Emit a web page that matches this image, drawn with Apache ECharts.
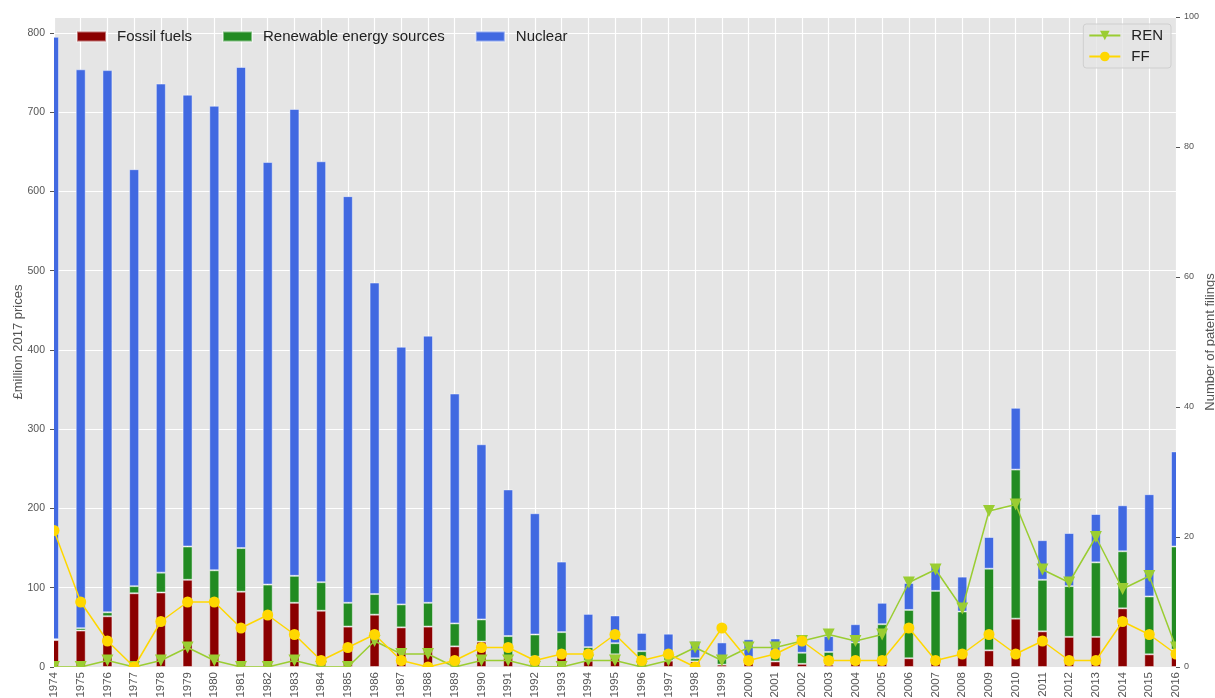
<!DOCTYPE html>
<html><head><meta charset="utf-8">
<script src="https://cdn.jsdelivr.net/npm/echarts@6/dist/echarts.min.js"></script>
<style>html,body{margin:0;padding:0;background:#fff}#c{width:1215px;height:698px}</style>
</head><body><div id="c"></div>
<script>
const years = ['1974','1975','1976','1977','1978','1979','1980','1981','1982','1983','1984','1985','1986','1987','1988','1989','1990','1991','1992','1993','1994','1995','1996','1997','1998','1999','2000','2001','2002','2003','2004','2005','2006','2007','2008','2009','2010','2011','2012','2013','2014','2015','2016'];
const fossil    = [34,46,64,93,94,110,85,95,62,81,71,51,66,50,51,26,32,12,13,18,8,16,8,8,7,3,5,7,4,3,5,7,11,10,16,21,61,45,38,38,74,16,22];
const renewable = [1,3,5,9,25,42,37,55,42,34,36,30,26,29,30,29,28,27,28,26,17,14,12,5,4,9,7,11,14,16,26,47,61,86,54,103,188,65,64,94,72,73,130];
const nuclear   = [760,705,684,526,617,570,586,607,533,589,531,513,393,325,337,290,221,185,153,89,42,35,23,29,22,19,23,18,22,20,23,27,34,32,44,40,78,50,67,61,58,129,120];
const renPatents = [0,0,1,0,1,3,1,0,0,1,0,0,4,2,2,0,1,1,0,0,1,1,0,1,3,1,3,3,4,5,4,5,13,15,9,24,25,15,13,20,12,14,3];
const ffPatents  = [21,10,4,0,7,10,10,6,8,5,1,3,5,1,0,1,3,3,1,2,2,5,1,2,0,6,1,2,4,1,1,1,6,1,2,5,2,4,1,1,7,5,2];
const leftTicks = [0,100,200,300,400,500,600,700,800];
const rightTicks = [0,20,40,60,80,100];

const FONT = "'Liberation Sans', Arial, sans-serif";
const W = 1215, H = 698;
const G = {left:54, right:39, top:17, bottom:31};
const chart = echarts.init(document.getElementById('c'), null, {renderer:'canvas'});
const barBorder = {borderColor:'rgba(255,255,255,0.45)', borderWidth:1};
const mask = (x, y, w, h) => ({type:'rect', z:8, silent:true, shape:{x, y, width:w, height:h}, style:{fill:'#fff'}});
chart.setOption({
  animation:false,
  textStyle:{fontFamily:FONT},
  grid:{left:G.left, right:G.right, top:G.top, bottom:G.bottom, show:true, backgroundColor:'#E5E5E5', borderWidth:0,
    containLabel:false, outerBoundsMode:'none'},
  graphic:{elements:[
    mask(0, 0, G.left, H),
    mask(W - G.right, 0, G.right, H),
    mask(0, H - G.bottom, W, G.bottom),
    mask(0, 0, W, G.top)
  ]},
  legend:[{
    data:['Fossil fuels','Renewable energy sources','Nuclear'],
    left:71, top:24, itemWidth:29, itemHeight:10, itemGap:30, z:12,
    icon:'rect',
    textStyle:{fontSize:15, color:'#222', fontFamily:FONT, padding:[0,0,0,6]}
  },{
    data:['REN','FF'],
    right:44, top:24, orient:'vertical', itemWidth:31, itemHeight:12, itemGap:6, z:12,
    padding:[4,8,4,5],
    backgroundColor:'rgba(229,229,229,0.8)', borderColor:'#cfcfcf', borderWidth:1, borderRadius:3,
    textStyle:{fontSize:15, color:'#222', fontFamily:FONT, padding:[0,0,0,6]}
  }],
  xAxis:[{
    type:'category', data:years, boundaryGap:false, z:10,
    axisLine:{show:false}, axisTick:{show:false},
    axisLabel:{rotate:90, interval:0, fontSize:11.5, color:'#555', margin:5, fontFamily:FONT},
    splitLine:{show:false}
  },{
    type:'category', data:years, boundaryGap:false, position:'bottom', z:0,
    axisLine:{show:false}, axisTick:{show:false}, axisLabel:{show:false},
    splitLine:{show:true, interval:0, lineStyle:{color:'#fff', width:1.2}}
  }],
  yAxis:[{
    type:'value', min:0, max:820, interval:100, z:10,
    name:'£million 2017 prices', nameLocation:'middle', nameGap:29, nameMoveOverlap:false,
    nameTextStyle:{fontSize:13, color:'#555', fontFamily:FONT},
    axisLine:{show:false},
    axisTick:{show:true, length:4, lineStyle:{color:'#555'}},
    axisLabel:{fontSize:10.5, color:'#555', margin:9, showMaxLabel:false,
      formatter:v=>leftTicks.includes(v)?String(v):''},
    splitLine:{show:false}
  },{
    type:'value', min:0, max:100, interval:20, position:'right', z:10,
    name:'Number of patent filings', nameLocation:'middle', nameGap:28, nameMoveOverlap:false,
    nameTextStyle:{fontSize:13, color:'#555', fontFamily:FONT},
    axisLine:{show:false},
    axisTick:{show:true, length:4, lineStyle:{color:'#555'}},
    axisLabel:{fontSize:9, color:'#555', margin:8,
      formatter:v=>rightTicks.includes(v)?String(v):''},
    splitLine:{show:false}
  },{
    type:'value', min:0, max:820, interval:100, position:'left', z:0,
    axisLine:{show:false}, axisTick:{show:false}, axisLabel:{show:false},
    splitLine:{show:true, lineStyle:{color:'#fff', width:1.2}}
  }],
  series:[
    {name:'Fossil fuels', type:'bar', stack:'t', data:fossil, barWidth:10,
      itemStyle:Object.assign({color:'#8B0000'}, barBorder), z:2},
    {name:'Renewable energy sources', type:'bar', stack:'t', data:renewable, barWidth:10,
      itemStyle:Object.assign({color:'#228B22'}, barBorder), z:2},
    {name:'Nuclear', type:'bar', stack:'t', data:nuclear, barWidth:10,
      itemStyle:Object.assign({color:'#4169E1'}, barBorder), z:2},
    {name:'REN', type:'line', yAxisIndex:1, data:renPatents, symbol:'triangle', symbolRotate:180, symbolSize:12,
      clip:false, lineStyle:{color:'#9ACD32', width:1.5}, itemStyle:{color:'#9ACD32'}, z:5},
    {name:'FF', type:'line', yAxisIndex:1, data:ffPatents, symbol:'circle', symbolSize:11,
      clip:false, lineStyle:{color:'#FFD700', width:1.5}, itemStyle:{color:'#FFD700'}, z:6}
  ]
});
</script></body></html>
